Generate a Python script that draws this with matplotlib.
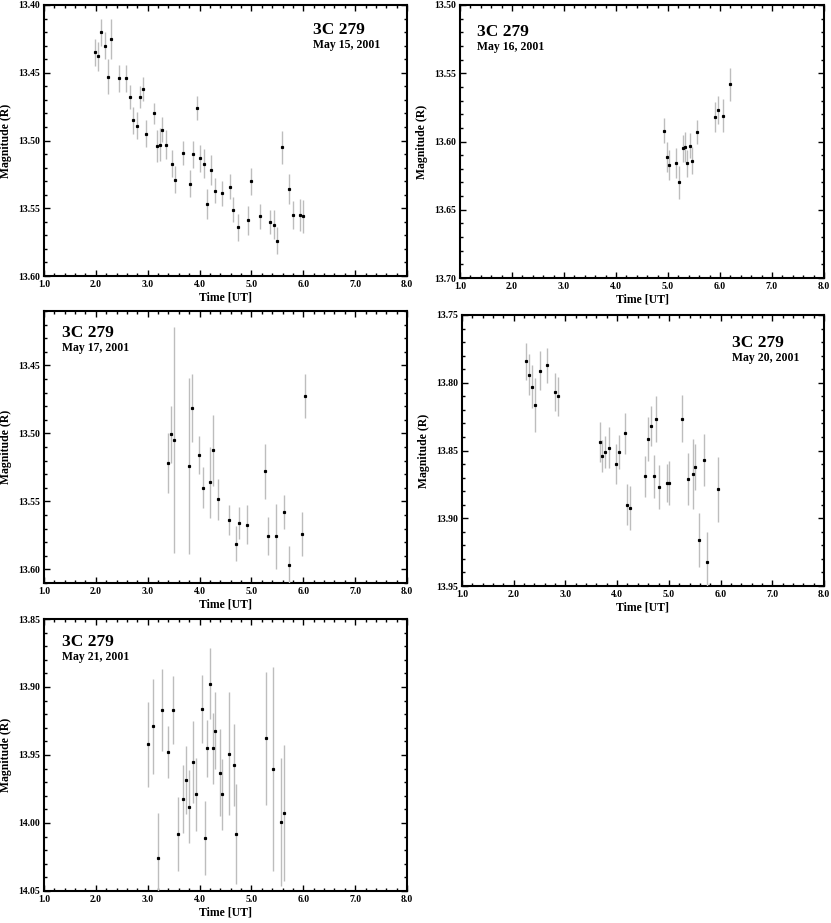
import matplotlib
matplotlib.use("Agg")
from matplotlib import pyplot as plt
from matplotlib.ticker import MultipleLocator, FormatStrFormatter

plt.rcParams['font.family'] = ['Liberation Serif', 'DejaVu Serif']
plt.rcParams['font.weight'] = 'bold'

# May 15, 2001
t1 = [1.98, 2.04, 2.105, 2.17, 2.24, 2.30, 2.45, 2.59, 2.66, 2.72, 2.79, 2.85, 2.91, 2.96,
      3.12, 3.18, 3.24, 3.28, 3.35, 3.47, 3.52, 3.68, 3.81, 3.88, 3.95, 4.01, 4.08, 4.15,
      4.22, 4.30, 4.44, 4.59, 4.65, 4.74, 4.93, 4.99, 5.16, 5.35, 5.43, 5.49, 5.59, 5.73,
      5.80, 5.945, 6.00]
m1 = [13.435, 13.438, 13.420, 13.430, 13.453, 13.425, 13.454, 13.454, 13.468, 13.485,
      13.489, 13.468, 13.462, 13.495, 13.480, 13.504, 13.503, 13.492, 13.503, 13.517,
      13.529, 13.509, 13.532, 13.510, 13.476, 13.513, 13.517, 13.547, 13.522, 13.537,
      13.539, 13.534, 13.551, 13.564, 13.559, 13.530, 13.556, 13.560, 13.562, 13.574,
      13.505, 13.536, 13.555, 13.555, 13.556]
e1 = [0.010, 0.011, 0.010, 0.010, 0.013, 0.015, 0.010, 0.010, 0.009, 0.010, 0.010, 0.008,
      0.009, 0.010, 0.008, 0.012, 0.012, 0.009, 0.011, 0.010, 0.010, 0.009, 0.010, 0.010,
      0.009, 0.010, 0.011, 0.011, 0.011, 0.009, 0.009, 0.009, 0.009, 0.010, 0.011, 0.010,
      0.009, 0.009, 0.011, 0.010, 0.012, 0.011, 0.010, 0.012, 0.012]

# May 16, 2001
t2 = [4.924, 4.975, 5.02, 5.155, 5.21, 5.28, 5.32, 5.36, 5.42, 5.46, 5.55, 5.91, 5.97, 6.05, 6.20]
m2 = [13.592, 13.611, 13.617, 13.616, 13.630, 13.605, 13.604, 13.616, 13.603, 13.614,
      13.593, 13.582, 13.577, 13.581, 13.558]
e2 = [0.009, 0.011, 0.011, 0.011, 0.012, 0.010, 0.011, 0.010, 0.009, 0.010, 0.009, 0.011,
      0.010, 0.012, 0.012]

# May 17, 2001
t3 = [3.40, 3.45, 3.505, 3.79, 3.845, 3.99, 4.06, 4.20, 4.25, 4.36, 4.56, 4.71, 4.76, 4.905,
      5.26, 5.32, 5.48, 5.62, 5.72, 5.98, 6.04]
m3 = [13.5215, 13.5007, 13.505, 13.524, 13.4814, 13.516, 13.540, 13.536, 13.5125, 13.5485,
      13.564, 13.581, 13.566, 13.567, 13.528, 13.5756, 13.5756, 13.5575, 13.597, 13.574, 13.4726]
e3 = [0.022, 0.021, 0.083, 0.065, 0.025, 0.014, 0.015, 0.026, 0.026, 0.015, 0.011, 0.013,
      0.012, 0.014, 0.020, 0.014, 0.024, 0.0125, 0.014, 0.016, 0.016]

# May 20, 2001
t4 = [2.23, 2.29, 2.354, 2.406, 2.515, 2.644, 2.80, 2.85, 3.663, 3.714, 3.77, 3.837, 3.985,
      4.03, 4.146, 4.19, 4.243, 4.546, 4.59, 4.65, 4.707, 4.752, 4.81, 4.96, 5.01, 5.255,
      5.365, 5.468, 5.507, 5.584, 5.68, 5.73, 5.95]
m4 = [13.7843, 13.794, 13.803, 13.8163, 13.791, 13.787, 13.807, 13.810, 13.8438, 13.854,
      13.851, 13.848, 13.860, 13.851, 13.8374, 13.890, 13.8925, 13.869, 13.8416, 13.832,
      13.869, 13.8269, 13.877, 13.874, 13.874, 13.8264, 13.871, 13.8675, 13.862, 13.916,
      13.857, 13.932, 13.8785]
e4 = [0.0137, 0.015, 0.016, 0.020, 0.0145, 0.013, 0.014, 0.0145, 0.015, 0.012, 0.012, 0.015,
      0.0145, 0.0125, 0.015, 0.015, 0.0165, 0.015, 0.016, 0.015, 0.016, 0.017, 0.016, 0.014,
      0.016, 0.017, 0.019, 0.026, 0.017, 0.020, 0.019, 0.022, 0.024]

# May 21, 2001
t5 = [3.01, 3.105, 3.20, 3.267, 3.40, 3.49, 3.576, 3.672, 3.737, 3.79, 3.87, 3.936, 4.052,
      4.104, 4.149, 4.20, 4.252, 4.297, 4.387, 4.432, 4.56, 4.67, 4.709, 5.29, 5.42, 5.57, 5.62]
m5 = [13.9422, 13.929, 14.026, 13.917, 13.948, 13.917, 14.008, 13.982, 13.9687, 13.988,
      13.955, 13.979, 13.916, 14.011, 13.945, 13.8976, 13.945, 13.932, 13.963, 13.979,
      13.949, 13.9575, 14.008, 13.9378, 13.960, 13.999, 13.993]
e5 = [0.031, 0.035, 0.033, 0.030, 0.019, 0.025, 0.027, 0.025, 0.025, 0.027, 0.030, 0.027,
      0.025, 0.027, 0.021, 0.026, 0.026, 0.028, 0.032, 0.026, 0.045, 0.030, 0.037, 0.049,
      0.075, 0.047, 0.050]

W, H = 831, 923


def panel(px, ylim, t, m, e, date, tx, ty):
    left, top, right, bottom = px
    ax = plt.gcf().add_axes([left / W, 1 - bottom / H, (right - left) / W, (bottom - top) / H])
    ax.errorbar(t, m, yerr=e, fmt='s', color='black', ms=1.3, ecolor='#bdbdbd',
                elinewidth=1.0, capsize=0, zorder=3)
    ax.set_xlim(1.0, 8.0)
    ax.set_ylim(ylim[1], ylim[0])
    ax.xaxis.set_major_locator(MultipleLocator(1.0))
    ax.xaxis.set_minor_locator(MultipleLocator(0.2))
    ax.yaxis.set_major_locator(MultipleLocator(0.05))
    ax.yaxis.set_minor_locator(MultipleLocator(0.01))
    ax.xaxis.set_major_formatter(FormatStrFormatter('%.1f'))
    ax.yaxis.set_major_formatter(FormatStrFormatter('%.2f'))
    ax.tick_params(which='both', direction='in', top=True, right=True, width=1,
                   labelsize=7, pad=3)
    ax.tick_params(which='major', length=4)
    ax.tick_params(which='minor', length=2)
    for s in ax.spines.values():
        s.set_linewidth(1.5)
    ax.set_xlabel('Time [UT]', fontsize=8.5, fontweight='bold', labelpad=2)
    ax.set_ylabel('Magnitude (R)', fontsize=8.5, fontweight='bold', labelpad=4)
    ax.text(tx, ty, '3C 279', transform=ax.transAxes, fontsize=12.5, fontweight='bold',
            va='center', ha='left')
    ax.text(tx, ty - 0.055, date, transform=ax.transAxes, fontsize=8.5, fontweight='bold',
            va='center', ha='left')
    return ax


fig = plt.figure(figsize=(W / 100, H / 100), dpi=100)
panel((44, 5, 407, 276), (13.40, 13.60), t1, m1, e1, 'May 15, 2001', 0.741, 0.908)
panel((460, 5, 824, 278), (13.50, 13.70), t2, m2, e2, 'May 16, 2001', 0.047, 0.900)
panel((44, 311, 407, 583), (13.41, 13.61), t3, m3, e3, 'May 17, 2001', 0.050, 0.919)
panel((462, 315, 824, 586), (13.75, 13.95), t4, m4, e4, 'May 20, 2001', 0.746, 0.897)
panel((44, 619, 407, 891), (13.85, 14.05), t5, m5, e5, 'May 21, 2001', 0.050, 0.915)

fig.savefig('out.png', dpi=100)
